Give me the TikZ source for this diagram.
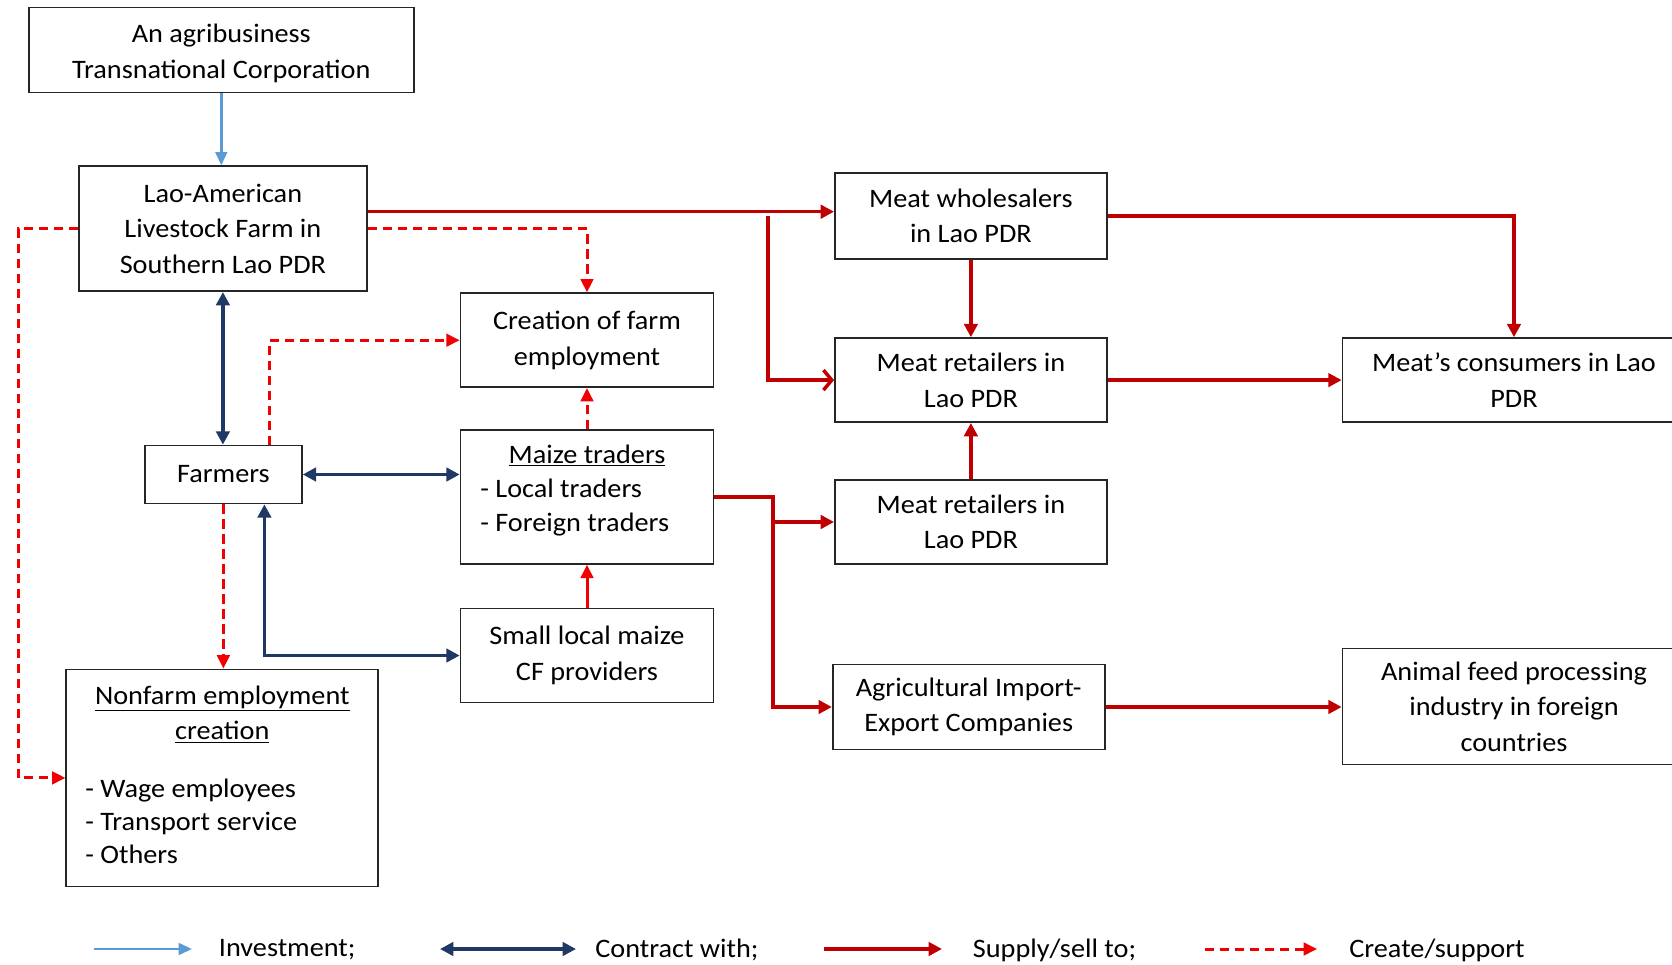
\documentclass[tikz,border=0pt]{standalone}
\usepackage{fontspec}
\setmainfont{Carlito}[FakeStretch=1.06]
\usetikzlibrary{arrows.meta,calc}
\definecolor{invest}{HTML}{5B9BD5}
\definecolor{contract}{HTML}{1F3864}
\definecolor{supply}{HTML}{C00000}
\definecolor{support}{HTML}{F00000}
\newcommand{\boxfont}{\fontsize{16}{21.3}\selectfont}
\tikzset{
  box/.style={draw=black!85, line width=1pt, fill=white, inner sep=0pt, align=center, font=\boxfont},
  txt/.style={inner sep=0pt, font=\boxfont},
  investline/.style={invest, line width=1.6pt, -{Triangle[length=8pt,width=7pt]}},
  contractline/.style={contract, line width=2.1pt, {Triangle[length=8pt,width=8pt]}-{Triangle[length=8pt,width=8pt]}},
  supplyline/.style={supply, line width=2.1pt, -{Triangle[length=8pt,width=8pt]}},
  openline/.style={supply, line width=2.1pt, -{Straight Barb[length=5pt,width=12pt]}},
  redsolid/.style={support, line width=1.8pt, -{Triangle[length=8pt,width=7.5pt]}},
  supportline/.style={support, line width=1.8pt, dash pattern=on 5.5pt off 3.5pt, -{Triangle[length=8pt,width=7.5pt]}},
}
\begin{document}
\begin{tikzpicture}[x=0.6pt,y=-0.6pt]
\useasboundingbox (0,0) rectangle (1672,965);

% left column
\node[box, minimum width=231pt, minimum height=51pt] (tnc) at (221.3,50.1) {\rule{0pt}{15pt}An agribusiness\\Transnational Corporation};
\node[box, minimum width=172.8pt, minimum height=75pt] (laf) at (222.9,228.7) {Lao-American\\Livestock Farm in\\Southern Lao PDR};
\node[box, minimum width=94.2pt, minimum height=34.8pt] (farm) at (223.4,474.5) {Farmers};
\node[box, minimum width=187.2pt, minimum height=130.2pt] (nf) at (222.3,777.9) {};
\node[txt, anchor=base] (nft1) at (222.3,704) {\underline{Nonfarm employment}};
\node[txt, anchor=base] (nft2) at (222.3,739.5) {\underline{creation}};
\node[txt, anchor=base west] (nf1) at (85,797) {- Wage employees};
\node[txt, anchor=base west] (nf2) at (85,830) {- Transport service};
\node[txt, anchor=base west] (nf3) at (85,863) {- Others};

% middle column
\node[box, minimum width=151.8pt, minimum height=56.4pt] (cfe) at (587,340.2) {Creation of farm\\employment};
\node[box, minimum width=151.8pt, minimum height=80.4pt] (mt) at (587,496.9) {};
\node[txt, anchor=base] (mtt) at (587,463) {\underline{Maize traders}};
\node[txt, anchor=base west] (mt1) at (480,497) {- Local traders};
\node[txt, anchor=base west] (mt2) at (480,531) {- Foreign traders};
\node[box, minimum width=151.8pt, minimum height=56.4pt] (slm) at (587,655.5) {Small local maize\\CF providers};

% meat and export chain
\node[box, minimum width=163.2pt, minimum height=51.6pt] (mw) at (970.9,215.9) {Meat wholesalers\\in Lao PDR};
\node[box, minimum width=163.2pt, minimum height=50.4pt] (mr1) at (970.9,380.1) {Meat retailers in\\Lao PDR};
\node[box, minimum width=163.2pt, minimum height=50.4pt] (mr2) at (970.9,522) {Meat retailers in\\Lao PDR};
\node[box, minimum width=163.2pt, minimum height=51pt] (aie) at (968.7,707) {Agricultural Import-\\Export Companies};
\node[box, minimum width=205.8pt, minimum height=50.4pt] (mc) at (1514,380.1) {Meat’s consumers in Lao\\PDR};
\node[box, minimum width=205.8pt, minimum height=69.6pt] (af) at (1514,706.4) {Animal feed processing\\industry in foreign\\countries};

% helper points for bends
\coordinate (lk) at (18,0);
\coordinate (br1) at (768,216);
\coordinate (bj) at (773,0);
\coordinate (lafo) at ($(laf.east)+(0,-17)$);

% investment
\draw[investline] (tnc.south) -- (tnc.south |- laf.north);

% contracts
\draw[contractline] (laf.south) -- (laf.south |- farm.north);
\draw[contractline] (farm.east) -- (farm.east -| mt.west);
\draw[contractline] (slm.west) -| ($(farm.south)+(41,0)$);

% create / support
\draw[redsolid] (slm.north) -- (mt.south);
\draw[supportline] (mt.north) -- (cfe.south);
\draw[supportline] (laf.east) -| (cfe.north);
\draw[supportline] ($(farm.north)+(46,0)$) |- (cfe.west);
\draw[supportline] (laf.west) -- (laf.west -| lk) |- (nf.west);
\draw[supportline] (farm.south) -- (farm.south |- nf.north);

% supply / sell
\draw[supplyline] (lafo) -- (lafo -| mw.west);
\draw[openline] (br1) |- (mr1.west);
\draw[supplyline] (mw.south) -- (mr1.north);
\draw[supplyline] (mw.east) -| (mc.north);
\draw[supplyline] (mr1.east) -- (mc.west);
\draw[supplyline] (mr2.north) -- (mr1.south);
\draw[supplyline] (mt.east) -- (mt.east -| bj) |- (aie.west);
\draw[supplyline] (mr2.west -| bj) -- (mr2.west);
\draw[supplyline] (aie.east) -- (aie.east -| af.west);

% legend
\coordinate (l1a) at (94,949);   \coordinate (l1b) at (192,949);
\coordinate (l2a) at (440,949);  \coordinate (l2b) at (576,949);
\coordinate (l3a) at (824,949);  \coordinate (l3b) at (942,949);
\coordinate (l4a) at (1205,949); \coordinate (l4b) at (1317,949);
\draw[investline] (l1a) -- (l1b);
\draw[contractline] (l2a) -- (l2b);
\draw[supplyline] (l3a) -- (l3b);
\draw[supportline] (l4a) -- (l4b);
\node[txt, anchor=west] (lg1) at (218.6,950) {Investment;};
\node[txt, anchor=west] (lg2) at (595,950) {Contract with;};
\node[txt, anchor=west] (lg3) at (972.5,950) {Supply/sell to;};
\node[txt, anchor=west] (lg4) at (1349,950) {Create/support};
\end{tikzpicture}
\end{document}
